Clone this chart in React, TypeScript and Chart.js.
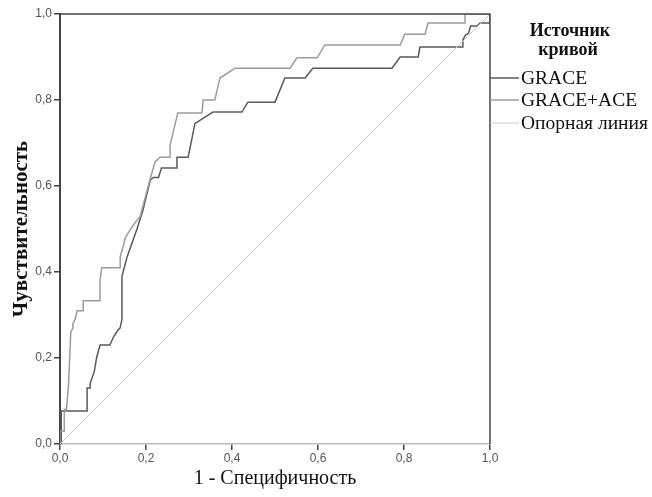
import React, { useEffect, useRef } from "react";
import { Chart, registerables } from "chart.js";

Chart.register(...registerables);

const graceX = [0, 0.003, 0.003, 0.063, 0.063, 0.07, 0.07, 0.08, 0.085, 0.093, 0.116, 0.125, 0.135, 0.14, 0.144, 0.144, 0.156, 0.179, 0.193, 0.21, 0.217, 0.229, 0.236, 0.272, 0.272, 0.298, 0.314, 0.32, 0.337, 0.356, 0.423, 0.437, 0.5, 0.523, 0.57, 0.588, 0.772, 0.791, 0.833, 0.837, 0.937, 0.937, 0.943, 0.95, 0.955, 0.97, 0.977, 1.0, 1.0];
const graceY = [0, 0, 0.077, 0.077, 0.13, 0.13, 0.14, 0.17, 0.2, 0.23, 0.23, 0.25, 0.265, 0.27, 0.29, 0.39, 0.435, 0.5, 0.544, 0.614, 0.62, 0.62, 0.642, 0.642, 0.667, 0.667, 0.746, 0.749, 0.76, 0.772, 0.772, 0.795, 0.795, 0.851, 0.851, 0.874, 0.874, 0.9, 0.9, 0.923, 0.923, 0.94, 0.951, 0.955, 0.972, 0.972, 0.979, 0.979, 1.0];

const graceAceX = [0, 0, 0.01, 0.01, 0.015, 0.02, 0.025, 0.03, 0.03, 0.035, 0.04, 0.054, 0.054, 0.092, 0.093, 0.097, 0.14, 0.14, 0.147, 0.152, 0.158, 0.174, 0.186, 0.209, 0.221, 0.233, 0.256, 0.256, 0.274, 0.33, 0.333, 0.36, 0.372, 0.407, 0.535, 0.551, 0.598, 0.616, 0.791, 0.802, 0.849, 0.856, 0.942, 0.942, 1.0];
const graceAceY = [0, 0.03, 0.03, 0.08, 0.08, 0.14, 0.26, 0.27, 0.28, 0.29, 0.31, 0.31, 0.333, 0.333, 0.38, 0.41, 0.41, 0.435, 0.46, 0.48, 0.49, 0.514, 0.528, 0.614, 0.656, 0.667, 0.667, 0.695, 0.77, 0.77, 0.8, 0.8, 0.851, 0.874, 0.874, 0.898, 0.898, 0.928, 0.928, 0.953, 0.953, 0.979, 0.979, 1.0, 1.0];

const refX = [0, 1];
const refY = [0, 1];

const seriesNames = ["GRACE", "GRACE+ACE", "Опорная линия"];
const seriesColors = ["#5a5a5a", "#9c9c9c", "#cdcdcd"];
const legendTitle = ["Источник", "кривой"];
const xTitle = "1 - Специфичность";
const yTitle = "Чувствительность";
const tickValues = [0, 0.2, 0.4, 0.6, 0.8, 1.0];

const zip = (xs: number[], ys: number[]) => xs.map((x, i) => ({ x, y: ys[i] }));
const fmt = (v: number) => v.toFixed(1).replace(".", ",");

const framePlugin = {
  id: "frameLegend",
  afterDraw(chart: any) {
    const { ctx, chartArea } = chart;
    const { left, right, top, bottom } = chartArea;
    ctx.save();
    ctx.strokeStyle = "#454545";
    ctx.lineWidth = 1.5;
    ctx.beginPath();
    ctx.moveTo(left, top);
    ctx.lineTo(right, top);
    ctx.lineTo(right, bottom);
    ctx.stroke();

    // legend
    ctx.fillStyle = "#111";
    ctx.textAlign = "center";
    ctx.textBaseline = "middle";
    ctx.font = "bold 18px 'Liberation Serif', serif";
    ctx.fillText(legendTitle[0], 570, 31);
    ctx.fillText(legendTitle[1], 568, 50);

    const ys = [78, 100, 123];
    ctx.font = "19.5px 'Liberation Serif', serif";
    ctx.textAlign = "left";
    seriesNames.forEach((name, i) => {
      ctx.strokeStyle = seriesColors[i];
      ctx.lineWidth = i === 2 ? 1 : 1.5;
      ctx.beginPath();
      ctx.moveTo(right, ys[i]);
      ctx.lineTo(519, ys[i]);
      ctx.stroke();
      ctx.fillStyle = "#111";
      ctx.fillText(name, 521, ys[i] + 1);
    });
    ctx.restore();
  },
};

export default function App() {
  const ref = useRef<HTMLCanvasElement>(null);
  useEffect(() => {
    if (!ref.current) return;
    const chart = new Chart(ref.current, {
      type: "line",
      data: {
        datasets: [
          {
            label: seriesNames[2],
            data: zip(refX, refY),
            borderColor: seriesColors[2],
            borderWidth: 1,
            pointRadius: 0,
            tension: 0,
          },
          {
            label: seriesNames[1],
            data: zip(graceAceX, graceAceY),
            borderColor: seriesColors[1],
            borderWidth: 1.5,
            pointRadius: 0,
            tension: 0,
          },
          {
            label: seriesNames[0],
            data: zip(graceX, graceY),
            borderColor: seriesColors[0],
            borderWidth: 1.5,
            pointRadius: 0,
            tension: 0,
          },
        ],
      },
      options: {
        animation: false,
        responsive: false,
        parsing: false as any,
        layout: { padding: { left: 0, top: 14, right: 162, bottom: 0 } },
        plugins: { legend: { display: false }, tooltip: { enabled: false } },
        scales: {
          x: {
            type: "linear",
            min: 0,
            max: 1,
            afterFit: (s: any) => { s.height = 53; },
            afterBuildTicks: (s: any) => { s.ticks = tickValues.map((v) => ({ value: v })); },
            ticks: {
              callback: (v: any) => fmt(Number(v)),
              font: { family: "'Liberation Sans', Arial, sans-serif", size: 12 },
              color: "#555",
              padding: 1,
              maxRotation: 0,
            },
            grid: { display: true, drawOnChartArea: false, drawTicks: true, tickLength: 6, color: "#444", lineWidth: 1.5 },
            border: { display: true, color: "#bcbcbc", width: 1.5 },
            title: {
              display: true,
              text: xTitle,
              font: { family: "'Liberation Serif', serif", size: 20 },
              color: "#111",
              padding: { top: 0, bottom: 6 },
            },
          },
          y: {
            type: "linear",
            min: 0,
            max: 1,
            afterFit: (s: any) => { s.width = 60; },
            afterBuildTicks: (s: any) => { s.ticks = tickValues.map((v) => ({ value: v })); },
            ticks: {
              callback: (v: any) => fmt(Number(v)),
              font: { family: "'Liberation Sans', Arial, sans-serif", size: 12 },
              color: "#555",
              padding: 2,
            },
            grid: { display: true, drawOnChartArea: false, drawTicks: true, tickLength: 6, color: "#444", lineWidth: 1.5 },
            border: { display: true, color: "#454545", width: 2 },
            title: {
              display: true,
              text: yTitle,
              font: { family: "'Liberation Serif', serif", size: 21, weight: "bold" },
              color: "#111",
              padding: { top: 9, bottom: 0 },
            },
          },
        },
      },
      plugins: [framePlugin],
    });
    return () => chart.destroy();
  }, []);
  return (
    <div style={{ position: "absolute", left: 0, top: 0, width: 652, height: 497, background: "#fff" }}>
      <canvas ref={ref} width={652} height={497} />
    </div>
  );
}
